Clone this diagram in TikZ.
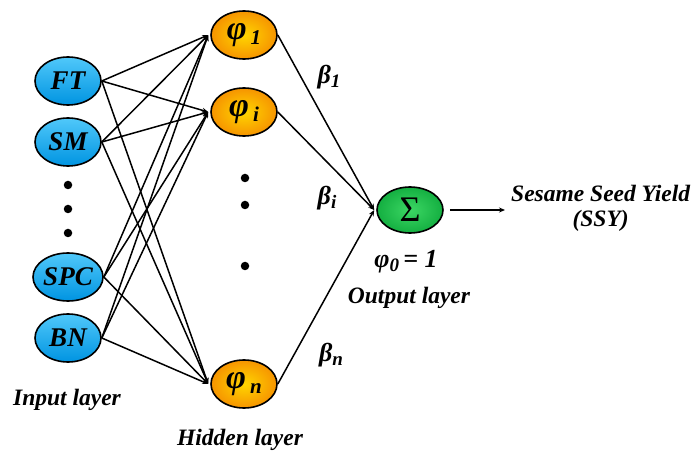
\documentclass[tikz,border=0pt]{standalone}
\usepackage{fontspec}
\setmainfont{Liberation Serif}
\usetikzlibrary{shapes.geometric,arrows.meta}
\definecolor{inA}{RGB}{80,200,250}
\definecolor{inB}{RGB}{0,148,225}
\definecolor{hidA}{RGB}{255,214,0}
\definecolor{hidB}{RGB}{246,148,0}
\definecolor{outA}{RGB}{60,215,100}
\definecolor{outB}{RGB}{20,175,65}
\tikzset{
  every node/.style={font=\bfseries\itshape},
  neuron/.style={ellipse, draw=black, line width=1.6pt, minimum width=66pt, minimum height=48pt, inner sep=0pt},
  innode/.style={neuron, top color=inA, bottom color=inB, font=\fontsize{27}{27}\selectfont\bfseries\itshape},
  hidnode/.style={neuron, inner color=hidA, outer color=hidB, font=\fontsize{34}{34}\selectfont\bfseries\itshape},
  outnode/.style={neuron, minimum height=46pt, inner color=outA, outer color=outB, font=\fontsize{36}{36}\selectfont},
  link/.style={line width=1.5pt, -{Stealth[length=6pt,width=5pt]}},
  dotmark/.style={circle, fill=black, inner sep=0pt, minimum size=8.5pt},
  lbl/.style={font=\fontsize{23.5}{25}\selectfont\bfseries\itshape},
  wlbl/.style={font=\fontsize{26}{26}\selectfont\bfseries\itshape},
}
\newcommand{\sbs}[1]{\raisebox{-0.35ex}{\fontsize{19}{19}\selectfont #1}}
\newcommand{\hsub}[1]{\kern4pt\raisebox{-0.3ex}{\fontsize{21}{21}\selectfont #1}}
\begin{document}
\begin{tikzpicture}[x=1pt,y=-1pt]
\useasboundingbox (0,0) rectangle (694,457);
% input layer
\node[innode] (ft) at (68,81) {FT};
\node[innode] (sm) at (68,142) {SM};
\node[dotmark] (d1) at (68,185) {};
\node[dotmark] (d2) at (68,209) {};
\node[dotmark] (d3) at (68,233) {};
\node[innode] (spc) at (68,277) {SPC};
\node[innode] (bn) at (68,338) {BN};
% hidden layer
\node[hidnode] (h1) at (244,35) {φ\hsub{1}};
\node[hidnode] (hi) at (244,112) {φ\hsub{i}};
\node[dotmark] (e1) at (245,178) {};
\node[dotmark] (e2) at (245,205) {};
\node[dotmark] (e3) at (245,266) {};
\node[hidnode] (hn) at (244,384) {φ\hsub{n}};
% output
\node[outnode] (out) at (410,210) {Σ};
\coordinate (res) at (505,210);
% connections input -> hidden
\foreach \a in {ft,sm,spc,bn}{
  \foreach \b in {h1,hi,hn}{
    \draw[link] (\a.east) -- ([xshift=-2pt]\b.west);
  }
}
% hidden -> output
\foreach \b in {h1,hi,hn}{
  \draw[link] (\b.east) -- ([xshift=-2pt]out.west);
}
\draw[link] (out.east) ++(6,0) coordinate (oe) -- (res);
% labels
\node[wlbl] (b1) at (329,77) {β\sbs{1}};
\node[wlbl] (bi) at (327,198) {β\sbs{i}};
\node[wlbl] (bnl) at (331,355) {β\sbs{n}};
\node[wlbl] (p0) at (406,262) {φ\sbs{0}\,= 1};
\node[lbl] (ol) at (409,298) {Output layer};
\node[lbl] (il) at (67,400) {Input layer};
\node[lbl] (hl) at (240,440) {Hidden layer};
\node[lbl, align=center, anchor=west, inner sep=0pt] (ssy) at (511,208) {Sesame Seed Yield\\(SSY)};
\end{tikzpicture}
\end{document}
